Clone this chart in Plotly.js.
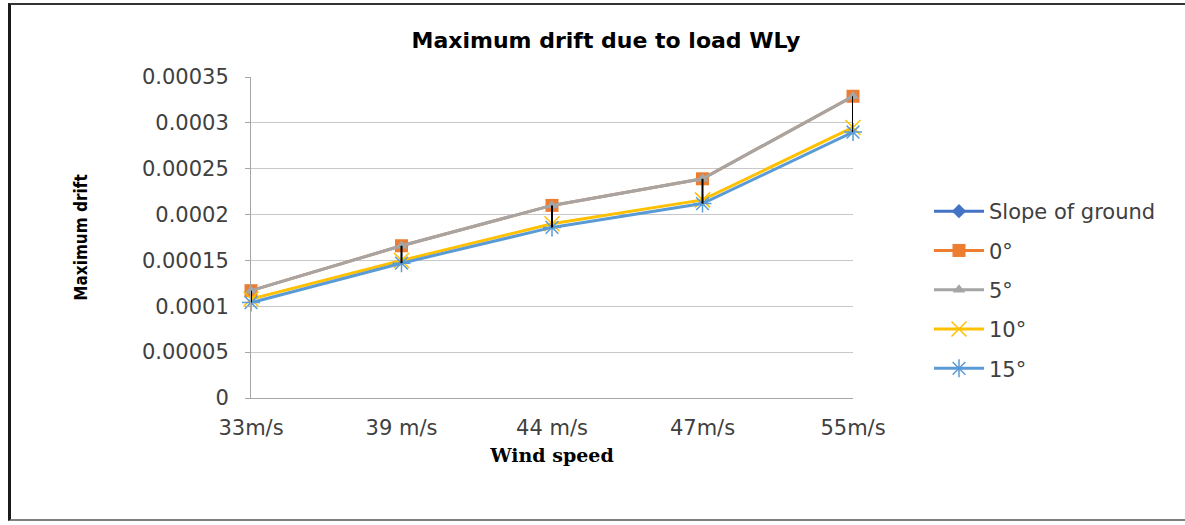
<!DOCTYPE html>
<html>
<head>
<meta charset="utf-8">
<script src="https://cdn.plot.ly/plotly-3.0.1.min.js"></script>
<style>
  html, body { margin: 0; padding: 0; background: #ffffff; }
  #wrap { position: relative; width: 1185px; height: 525px; }
  #chart { position: absolute; left: 0; top: 0; width: 1185px; height: 525px; }
  #frame { position: absolute; left: 8px; top: 3px; width: 1177px; height: 518px;
           border-left: 3px solid #1a1a1a; border-top: 2px solid #333333; border-bottom: 2px solid #7f7f7f;
           pointer-events: none; box-sizing: border-box; }
</style>
</head>
<body>
<div id="wrap">
  <div id="chart"></div>
  <div id="frame"></div>
</div>
<script>
// ---- data ----
const categories = ["33m/s", "39 m/s", "44 m/s", "47m/s", "55m/s"];
const seriesNames = ["Slope of ground", "0°", "5°", "10°", "15°"];
const slopeOfGround = [null, null, null, null, null];
const deg0  = [0.000117, 0.000166, 0.000210, 0.000239, 0.000329];
const deg5  = [0.000117, 0.000166, 0.000210, 0.000239, 0.000329];
const deg10 = [0.000108, 0.000150, 0.000190, 0.000216, 0.000295];
const deg15 = [0.000104, 0.000147, 0.000186, 0.000212, 0.000290];
const yTickVals   = [0, 0.00005, 0.0001, 0.00015, 0.0002, 0.00025, 0.0003, 0.00035];
const yTickLabels = ["0", "0.00005", "0.0001", "0.00015", "0.0002", "0.00025", "0.0003", "0.00035"];

// ---- traces ----
const lw = 3;
function tr(name, y, color, marker, gi) {
  return {
    type: 'scatter', mode: 'lines+markers', name: name,
    x: categories, y: y, cliponaxis: false,
    legendgroup: 'g' + gi,
    line: { color: color, width: lw },
    marker: marker, hoverinfo: 'x+y+name'
  };
}
const traces = [
  tr(seriesNames[0], slopeOfGround, '#4472C4', { symbol: 'diamond', size: 11, color: '#4472C4' }, 0),
  tr(seriesNames[1], deg0, '#ED7D31', { symbol: 'square', size: 13, color: '#ED7D31' }, 1),
  tr(seriesNames[2], deg5, '#A5A5A5', { symbol: 'triangle-up', size: 11, color: '#A5A5A5' }, 2),
  tr(seriesNames[3], deg10, '#FFC000', { symbol: 'x-thin-open', size: 15, color: '#FFC000', line: { color: '#FFC000', width: 1.5 } }, 3),
  tr(seriesNames[4], deg15, '#5B9BD5', { symbol: 'asterisk-open', size: 15, color: '#5B9BD5', line: { color: '#5B9BD5', width: 1.5 } }, 4)
];

// high-low lines built from the series values
const allSeries = [deg0, deg5, deg10, deg15];
const hlX = [], hlY = [];
categories.forEach((c, i) => {
  const vals = allSeries.map(s => s[i]);
  hlX.push(c, c, null);
  hlY.push(Math.max(...vals), Math.min(...vals), null);
});
traces.push({
  type: 'scatter', mode: 'lines', x: hlX, y: hlY, showlegend: false,
  cliponaxis: false, hoverinfo: 'skip',
  line: { color: '#000000', width: 2 }
});

const tickFont = { family: 'DejaVu Sans', size: 21, color: '#404040' };

const layout = {
  width: 1185, height: 525,
  margin: { l: 251, r: 332, t: 77, b: 127 },
  paper_bgcolor: '#ffffff', plot_bgcolor: '#ffffff',
  showlegend: true,
  title: {
    text: 'Maximum drift due to load WLy',
    font: { family: 'DejaVu Sans', size: 22, color: '#000000', weight: 'bold' },
    x: 606 / 1185, xanchor: 'center', xref: 'container',
    y: 1 - 40 / 525, yanchor: 'middle', yref: 'container'
  },
  xaxis: {
    type: 'category', range: [0, 4],
    showgrid: false, zeroline: false,
    showline: true, linecolor: '#a6a6a6', linewidth: 1,
    ticks: '', tickfont: tickFont, ticklabelstandoff: 11,
    title: { text: 'Wind speed', font: { family: 'DejaVu Serif', size: 19, color: '#000000', weight: 'bold' }, standoff: 9 },
    fixedrange: true
  },
  yaxis: {
    range: [0, 0.00035],
    tickvals: yTickVals, ticktext: yTickLabels,
    showgrid: true, gridcolor: '#c8c8c8', gridwidth: 1,
    zeroline: false,
    showline: true, linecolor: '#a6a6a6', linewidth: 1,
    ticks: 'outside', ticklen: 5, tickcolor: '#a6a6a6',
    tickfont: tickFont, ticklabelstandoff: 12,
    title: { text: 'Maximum drift', font: { family: 'DejaVu Sans Condensed, Liberation Sans, sans-serif', size: 17, color: '#000000', weight: 'bold' }, standoff: 50 },
    fixedrange: true
  },
  legend: {
    x: (929 - 251) / 602, xanchor: 'left',
    y: (398 - 191) / 321, yanchor: 'top',
    font: { family: 'DejaVu Sans', size: 21, color: '#404040' },
    traceorder: 'grouped', tracegroupgap: 9,
    itemwidth: 50,
    bgcolor: 'rgba(0,0,0,0)'
  }
};

Plotly.newPlot('chart', traces, layout, { displayModeBar: false, staticPlot: true });
</script>
</body>
</html>
